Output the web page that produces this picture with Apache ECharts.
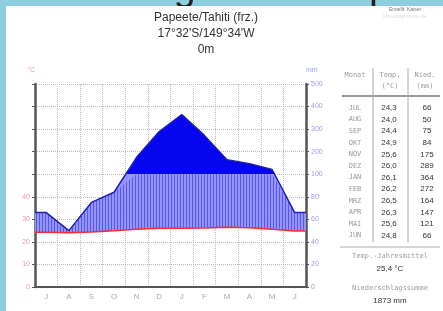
<!DOCTYPE html>
<html>
<head>
<meta charset="utf-8">
<script src="https://cdn.jsdelivr.net/npm/echarts@6/dist/echarts.min.js"></script>
<style>
  html, body { margin: 0; padding: 0; background: #8fcde0; }
  #chart { width: 443px; height: 311px; }
</style>
</head>
<body>
<div id="chart"></div>
<script>
// Papeete/Tahiti climate diagram (Walter-Lieth style)
const months = ["J", "A", "S", "O", "N", "D", "J", "F", "M", "A", "M", "J"];
const monthNames = ["JUL", "AUG", "SEP", "OKT", "NOV", "DEZ", "JAN", "FEB", "MRZ", "APR", "MAI", "JUN"];
const temps = [24.3, 24.0, 24.4, 24.9, 25.6, 26.0, 26.1, 26.2, 26.5, 26.3, 25.6, 24.8];
const precip = [66, 50, 75, 84, 175, 289, 364, 272, 164, 147, 121, 66];
const tempTicks = [0, 10, 20, 30, 40];
const precipTicks = [0, 20, 40, 60, 80, 100, 200, 300, 400, 500];
const annualTemp = 25.4;
const annualPrecip = 1873;

// walter-lieth scale: 20 mm = 10 degC up to 100 mm, then 100 mm = 10 degC
function rainToScale(p) {
  return p <= 100 ? p / 2 : 50 + (p - 100) / 10;
}
function scaleToRain(v) {
  return v <= 50 ? v * 2 : 100 + (v - 50) * 10;
}

// [value, xpos] pairs at month centres, flat to the edges
// (value first so that stacking works on the value dimension)
function points(vals) {
  let out = [[vals[0], 0]];
  vals.forEach((v, i) => out.push([v, i + 0.5]));
  out.push([vals[vals.length - 1], 12]);
  return out;
}

const rainScaled = precip.map(rainToScale);
const tempPts = points(temps);
const rainDelta = points(rainScaled.map((r, i) => r - temps[i]));
const hatchDelta = points(rainScaled.map((r, i) => Math.min(r, 50) - temps[i]));

// vertical hatch pattern
const pat = document.createElement("canvas");
pat.width = 3;
pat.height = 8;
const pctx = pat.getContext("2d");
pctx.fillStyle = "rgba(50,50,200,0.6)";
pctx.fillRect(0, 0, 1, 8);

const grey = "#9a9a9a";
const labFont = '7px "DejaVu Sans Mono"';
const valFont = '8px "Liberation Sans"';
const titleFont = '12px "Liberation Sans"';
const enc = { x: 1, y: 0 };

let graphics = [
  { type: "text", x: 20, y: 9, z: -2, style: { text: "Klimadiagramm  Papeete  (frz.)", font: '40px "Liberation Sans"', fill: "#222", textVerticalAlign: "bottom" } },
  { type: "rect", z: -1, shape: { x: 6, y: 6, width: 437, height: 305 }, style: { fill: "#fff" } },
  { type: "text", x: 206, y: 18, style: { text: "Papeete/Tahiti (frz.)", font: titleFont, fill: "#333", textAlign: "center", textVerticalAlign: "middle" } },
  { type: "text", x: 206, y: 34, style: { text: "17°32'S/149°34'W", font: titleFont, fill: "#333", textAlign: "center", textVerticalAlign: "middle" } },
  { type: "text", x: 206, y: 50, style: { text: "0m", font: titleFont, fill: "#333", textAlign: "center", textVerticalAlign: "middle" } },
  { type: "text", x: 405, y: 10, style: { text: "Erstellt: Kaiser", font: '5px "Liberation Sans"', fill: "#777", textAlign: "center", textVerticalAlign: "middle" } },
  { type: "text", x: 405, y: 17, style: { text: "klimadiagramme.de", font: '5px "Liberation Sans"', fill: "#ddd", textAlign: "center", textVerticalAlign: "middle" } },
  // table header
  { type: "text", x: 355, y: 75, style: { text: "Monat", font: labFont, fill: grey, textAlign: "center", textVerticalAlign: "middle" } },
  { type: "text", x: 390, y: 75, style: { text: "Temp.", font: labFont, fill: grey, textAlign: "center", textVerticalAlign: "middle" } },
  { type: "text", x: 425, y: 75, style: { text: "Nied.", font: labFont, fill: grey, textAlign: "center", textVerticalAlign: "middle" } },
  { type: "text", x: 390, y: 86, style: { text: "(°C)", font: labFont, fill: grey, textAlign: "center", textVerticalAlign: "middle" } },
  { type: "text", x: 425, y: 86, style: { text: "(mm)", font: labFont, fill: grey, textAlign: "center", textVerticalAlign: "middle" } },
  { type: "line", shape: { x1: 342, y1: 96, x2: 440, y2: 96 }, style: { stroke: "#777", lineWidth: 1.5 } },
  { type: "line", shape: { x1: 373, y1: 68, x2: 373, y2: 242 }, style: { stroke: "#aaa", lineWidth: 1 } },
  { type: "line", shape: { x1: 408, y1: 68, x2: 408, y2: 242 }, style: { stroke: "#aaa", lineWidth: 1 } },
  { type: "line", shape: { x1: 340, y1: 247, x2: 440, y2: 247 }, style: { stroke: "#aaa", lineWidth: 1 } },
  { type: "text", x: 390, y: 256, style: { text: "Temp.-Jahresmittel", font: labFont, fill: grey, textAlign: "center", textVerticalAlign: "middle" } },
  { type: "text", x: 390, y: 269, style: { text: annualTemp.toFixed(1).replace(".", ",") + " °C", font: valFont, fill: "#333", textAlign: "center", textVerticalAlign: "middle" } },
  { type: "text", x: 390, y: 288, style: { text: "Niederschlagssumme", font: labFont, fill: grey, textAlign: "center", textVerticalAlign: "middle" } },
  { type: "text", x: 390, y: 301, style: { text: annualPrecip + " mm", font: valFont, fill: "#333", textAlign: "center", textVerticalAlign: "middle" } }
];

monthNames.forEach((m, i) => {
  const y = 108 + i * 11.6;
  graphics.push({ type: "text", x: 355, y: y, style: { text: m, font: labFont, fill: grey, textAlign: "center", textVerticalAlign: "middle" } });
  graphics.push({ type: "text", x: 389, y: y, style: { text: temps[i].toFixed(1).replace(".", ","), font: valFont, fill: "#333", textAlign: "center", textVerticalAlign: "middle" } });
  graphics.push({ type: "text", x: 427, y: y, style: { text: String(precip[i]), font: valFont, fill: "#333", textAlign: "center", textVerticalAlign: "middle" } });
});

const chart = echarts.init(document.getElementById("chart"));
chart.setOption({
  animation: false,
  grid: { left: 35, right: 137, top: 84, bottom: 24 },
  visualMap: {
    show: false,
    type: "piecewise",
    seriesIndex: 1,
    dimension: 0,
    pieces: [
      { gte: 0, lte: 50, color: "#9494ff" },
      { gt: 50, lte: 90, color: "#0505ee" }
    ]
  },
  xAxis: [
    {
      type: "category",
      data: months,
      boundaryGap: true,
      axisLine: { lineStyle: { color: "#555", width: 2 } },
      axisTick: { length: 3, lineStyle: { color: "#555" } },
      axisLabel: { color: "#aaa", fontSize: 8, margin: 6 },
      splitLine: { show: true, lineStyle: { color: "#bbb", type: "dotted" } }
    },
    { type: "value", min: 0, max: 12, show: false }
  ],
  yAxis: [
    {
      type: "value",
      min: 0,
      max: 90,
      interval: 10,
      position: "left",
      name: "°C",
      nameGap: 10,
      nameTextStyle: { color: "#f8a0a0", fontSize: 7, align: "right" },
      axisLine: { show: true, lineStyle: { color: "#555", width: 2.5 } },
      axisTick: { show: true, length: 3, lineStyle: { color: "#555" } },
      axisLabel: {
        color: "#f49a9a",
        fontSize: 7,
        margin: 5,
        formatter: v => (tempTicks.indexOf(v) >= 0 ? String(v) : "")
      },
      splitLine: { show: true, lineStyle: { color: "#bbb", type: "dotted" } }
    },
    {
      type: "value",
      min: 0,
      max: 90,
      interval: 10,
      position: "right",
      name: "mm",
      nameGap: 10,
      nameTextStyle: { color: "#a0a0f8", fontSize: 7, align: "left" },
      axisLine: { show: true, lineStyle: { color: "#555", width: 2.5 } },
      axisTick: { show: true, length: 3, lineStyle: { color: "#555" } },
      axisLabel: {
        color: "#9a9af4",
        fontSize: 7,
        margin: 5,
        formatter: v => {
          const mm = Math.round(scaleToRain(v));
          return precipTicks.indexOf(mm) >= 0 ? String(mm) : "";
        }
      },
      splitLine: { show: false }
    }
  ],
  series: [
    {
      type: "line", xAxisIndex: 1, stack: "rain", data: tempPts, encode: enc,
      symbol: "none", lineStyle: { opacity: 0 }, z: 2
    },
    {
      type: "line", xAxisIndex: 1, stack: "rain", data: rainDelta, encode: enc,
      symbol: "none", lineStyle: { color: "#2020a8", width: 1.5 },
      areaStyle: { opacity: 1 }, z: 2
    },
    {
      type: "line", xAxisIndex: 1, stack: "hatch", data: tempPts, encode: enc,
      symbol: "none", lineStyle: { opacity: 0 }, z: 3
    },
    {
      type: "line", xAxisIndex: 1, stack: "hatch", data: hatchDelta, encode: enc,
      symbol: "none", lineStyle: { opacity: 0 },
      areaStyle: { color: { image: pat, repeat: "repeat" }, opacity: 1 }, z: 3
    },
    {
      type: "line", xAxisIndex: 1, data: tempPts, encode: enc,
      symbol: "none", lineStyle: { color: "#ff2a2a", width: 1.5 }, z: 4
    }
  ],
  graphic: graphics
});
</script>
</body>
</html>
